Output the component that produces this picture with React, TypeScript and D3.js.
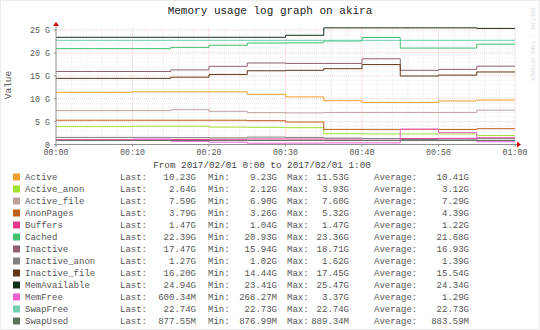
import React from "react";
import * as d3 from "d3";

const W = 540;
const H = 330;

const times = [0, 5, 10, 15, 20, 25, 30, 35, 40, 45, 50, 55, 60];

const seriesNames = [
  "Active",
  "Active_anon",
  "Active_file",
  "AnonPages",
  "Buffers",
  "Cached",
  "Inactive",
  "Inactive_anon",
  "Inactive_file",
  "MemAvailable",
  "MemFree",
  "SwapFree",
  "SwapUsed",
];

const seriesColors = [
  "#f0a030",
  "#a0e030",
  "#c0a0a0",
  "#c06018",
  "#e83890",
  "#40c070",
  "#906070",
  "#808080",
  "#603818",
  "#103018",
  "#f060d0",
  "#70d0b0",
  "#607060",
];

// values in GB, sampled every 5 minutes (step after)
const activeVals = [11.4, 11.4, 11.5, 11.5, 11.5, 10.96, 10.4, 9.56, 9.2, 9.2, 9.5, 9.7, 9.7];
const activeAnonVals = [3.9, 3.9, 4.0, 4.0, 3.8, 3.75, 3.67, 2.36, 2.3, 2.3, 2.3, 1.95, 1.95];
const activeFileVals = [7.4, 7.4, 7.4, 7.6, 7.25, 6.95, 6.9, 7.0, 7.0, 7.0, 7.0, 7.5, 7.5];
const anonPagesVals = [5.3, 5.3, 5.3, 5.3, 5.3, 5.2, 4.9, 3.3, 3.3, 3.3, 3.3, 3.45, 3.45];
const buffersVals = [1.05, 1.05, 1.05, 1.1, 1.15, 1.2, 1.2, 1.2, 1.25, 1.3, 1.35, 1.47, 1.47];
const cachedVals = [20.93, 20.93, 20.93, 21.2, 21.66, 22.16, 22.2, 22.6, 23.36, 21.05, 21.05, 21.9, 21.9];
const inactiveVals = [15.94, 15.94, 15.94, 16.3, 17.07, 17.8, 17.7, 17.7, 18.71, 16.2, 16.4, 17.1, 17.1];
const inactiveAnonVals = [1.55, 1.55, 1.55, 1.5, 1.45, 1.62, 1.55, 1.4, 1.3, 1.1, 1.02, 1.27, 1.27];
const inactiveFileVals = [14.44, 14.44, 14.44, 14.7, 15.3, 16.1, 16.2, 16.55, 17.45, 14.95, 15.15, 15.83, 15.83];
const memAvailableVals = [23.41, 23.41, 23.41, 23.41, 23.41, 23.41, 23.84, 25.47, 25.47, 25.47, 25.47, 25.35, 25.35];
const memFreeVals = [0.95, 0.95, 1.2, 0.7, 0.5, 0.27, 0.3, 0.35, 0.35, 3.37, 2.6, 0.6, 0.6];
const swapFreeVals = [22.74, 22.74, 22.74, 22.74, 22.74, 22.74, 22.74, 22.74, 22.74, 22.74, 22.74, 22.74, 22.74];
const swapUsedVals = [0.88, 0.88, 0.88, 0.88, 0.88, 0.88, 0.88, 0.88, 0.88, 0.88, 0.88, 0.88, 0.88];

const seriesValues = [
  activeVals,
  activeAnonVals,
  activeFileVals,
  anonPagesVals,
  buffersVals,
  cachedVals,
  inactiveVals,
  inactiveAnonVals,
  inactiveFileVals,
  memAvailableVals,
  memFreeVals,
  swapFreeVals,
  swapUsedVals,
];

const lastVals = ["10.23G", "2.64G", "7.59G", "3.79G", "1.47G", "22.39G", "17.47G", "1.27G", "16.20G", "24.94G", "600.34M", "22.74G", "877.55M"];
const minVals = ["9.23G", "2.12G", "6.90G", "3.26G", "1.04G", "20.93G", "15.94G", "1.02G", "14.44G", "23.41G", "268.27M", "22.73G", "876.99M"];
const maxVals = ["11.53G", "3.93G", "7.60G", "5.32G", "1.47G", "23.36G", "18.71G", "1.62G", "17.45G", "25.47G", "3.37G", "22.74G", "889.34M"];
const avgVals = ["10.41G", "3.12G", "7.29G", "4.39G", "1.22G", "21.68G", "16.93G", "1.39G", "15.54G", "24.34G", "1.29G", "22.73G", "883.59M"];

const yTicks = [0, 5, 10, 15, 20, 25];
const yTickLabels = ["0", "5 G", "10 G", "15 G", "20 G", "25 G"];
const xTicks = [0, 10, 20, 30, 40, 50, 60];
const xTickLabels = ["00:00", "00:10", "00:20", "00:30", "00:40", "00:50", "01:00"];

const title = "Memory usage log graph on akira";
const subtitle = "From 2017/02/01 0:00 to 2017/02/01 1:00";

const MONO = "'Liberation Mono', 'DejaVu Sans Mono', monospace";

export default function App() {
  const x = d3.scaleLinear().domain([0, 60]).range([56, 515]);
  const y = d3.scaleLinear().domain([0, 25]).range([144.5, 30]);

  const line = d3
    .line<[number, number]>()
    .x((d) => x(d[0]))
    .y((d) => y(d[1]))
    .curve(d3.curveStepAfter);

  const minorX = d3.range(0, 61, 2).filter((m) => m % 10 !== 0);
  const minorY = d3.range(0, 26, 1).filter((v) => v % 5 !== 0);

  const legendTop = 177;
  const rowH = 12;

  return (
    <svg
      width={W}
      height={H}
      style={{ position: "absolute", left: 0, top: 0, display: "block" }}
      xmlns="http://www.w3.org/2000/svg"
    >
      <rect x={0} y={0} width={W} height={H} fill="#ffffff" />
      <rect x={0.5} y={0.5} width={W - 1} height={H - 1} fill="none" stroke="#ececec" />

      <text x={270} y={14} textAnchor="middle" fontFamily={MONO} fontSize={11} fill="#222">
        {title}
      </text>

      {/* minor grid */}
      {minorX.map((m) => (
        <line key={"mx" + m} x1={x(m)} x2={x(m)} y1={y(0)} y2={y(25.5)} stroke="#e2e2e2" strokeWidth={0.8} strokeDasharray="1,1" />
      ))}
      {minorY.map((v) => (
        <line key={"my" + v} x1={x(0)} x2={x(60)} y1={y(v)} y2={y(v)} stroke="#ececec" strokeWidth={0.8} strokeDasharray="1,1" />
      ))}
      {/* major grid */}
      {xTicks.slice(1).map((m) => (
        <line key={"Mx" + m} x1={x(m)} x2={x(m)} y1={y(0)} y2={y(25.5)} stroke="#f0b8b8" strokeWidth={0.8} strokeDasharray="1,1" />
      ))}
      {yTicks.slice(1).map((v) => (
        <line key={"My" + v} x1={x(0)} x2={x(60)} y1={y(v)} y2={y(v)} stroke="#f0c0c0" strokeWidth={0.8} strokeDasharray="1,1" />
      ))}

      {/* series */}
      {seriesValues.map((vals, i) => (
        <path
          key={"s" + i}
          d={line(times.map((t, j) => [t, vals[j]] as [number, number])) || ""}
          fill="none"
          stroke={seriesColors[i]}
          strokeWidth={1}
        />
      ))}

      {/* axes */}
      <line x1={x(0)} x2={x(60) + 2} y1={y(0)} y2={y(0)} stroke="#909090" strokeWidth={1} />
      <line x1={x(0)} x2={x(0)} y1={y(0) + 2} y2={26} stroke="#909090" strokeWidth={1} />
      <path d={`M${x(60) + 2},${y(0) - 3} L${x(60) + 6},${y(0)} L${x(60) + 2},${y(0) + 3} Z`} fill="#cc0000" />
      <path d={`M${x(0) - 3},26 L${x(0)},22 L${x(0) + 3},26 Z`} fill="#cc0000" />

      {yTicks.map((v, i) => (
        <g key={"yt" + v}>
          <line x1={x(0) - 2} x2={x(0)} y1={y(v)} y2={y(v)} stroke="#909090" />
          <text x={50} y={y(v) + 3} textAnchor="end" fontFamily={MONO} fontSize={8.3} fill="#555">
            {yTickLabels[i]}
          </text>
        </g>
      ))}
      {xTicks.map((m, i) => (
        <g key={"xt" + m}>
          <line x1={x(m)} x2={x(m)} y1={y(0)} y2={y(0) + 2} stroke="#909090" />
          <text x={x(m)} y={155} textAnchor="middle" fontFamily={MONO} fontSize={8.3} fill="#555">
            {xTickLabels[i]}
          </text>
        </g>
      ))}

      <text
        transform={`translate(11,85) rotate(-90)`}
        textAnchor="middle"
        fontFamily={MONO}
        fontSize={9.5}
        fill="#555"
      >
        Value
      </text>

      <text x={262} y={168} textAnchor="middle" fontFamily={MONO} fontSize={9.3} fill="#444">
        {subtitle}
      </text>

      {/* legend */}
      {seriesNames.map((name, i) => {
        const cy = legendTop + i * rowH;
        const ty = cy + 3;
        return (
          <g key={"lg" + i} fontFamily={MONO} fontSize={9} fill="#555">
            <rect x={13} y={cy - 3.5} width={7} height={7} fill={seriesColors[i]} />
            <text x={25} y={ty}>{name}</text>
            <text x={120} y={ty}>Last:</text>
            <text x={196} y={ty} textAnchor="end">{lastVals[i]}</text>
            <text x={208} y={ty}>Min:</text>
            <text x={277} y={ty} textAnchor="end">{minVals[i]}</text>
            <text x={287} y={ty}>Max:</text>
            <text x={349} y={ty} textAnchor="end">{maxVals[i]}</text>
            <text x={374} y={ty}>Average:</text>
            <text x={469} y={ty} textAnchor="end">{avgVals[i]}</text>
          </g>
        );
      })}

      {/* watermark */}
      <text
        transform={`translate(531,8) rotate(90)`}
        fontFamily={MONO}
        fontSize={5.5}
        fill="#d8d8d8"
      >
        RRDTOOL / TOBI OETIKER
      </text>
    </svg>
  );
}
